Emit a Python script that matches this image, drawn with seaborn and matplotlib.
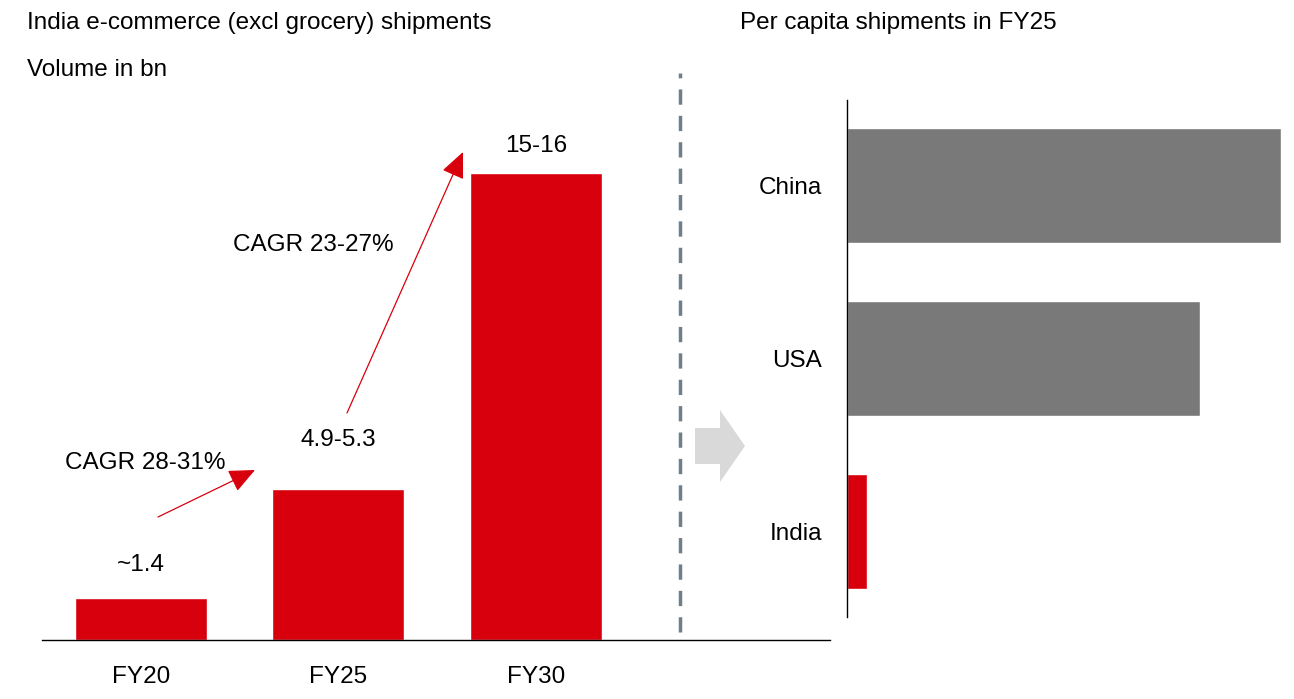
import matplotlib
matplotlib.use("Agg")
import matplotlib.pyplot as plt
import seaborn as sns
import pandas as pd
from matplotlib.patches import Polygon

sns.set_theme(style="white")
plt.rcParams['font.family'] = ['Liberation Sans', 'DejaVu Sans']
plt.rcParams['text.color'] = 'black'

# ---- data ----
years = ["FY20", "FY25", "FY30"]
volumes = [1.4, 5.0, 15.5]
volume_labels = ["~1.4", "4.9-5.3", "15-16"]
countries = ["China", "USA", "India"]
per_capita = [78.0, 63.5, 3.6]
cagr_labels = ["CAGR 28-31%", "CAGR 23-27%"]

RED = "#d9000d"
GRAY = "#797979"
W, H = 1294, 699
FS = 17.5

fig = plt.figure(figsize=(W / 100, H / 100), dpi=100)

def ax_rect(l, r, t, b):
    return [l / W, 1 - b / H, (r - l) / W, (b - t) / H]

# ---- left panel ----
ax1 = fig.add_axes(ax_rect(42, 830, 70, 640))
df1 = pd.DataFrame({"year": years, "vol": volumes})
sns.barplot(data=df1, x="year", y="vol", color=RED, saturation=1, width=0.67, ax=ax1)
ax1.set_xlim(-0.5, 3.49)
ax1.set_ylim(0, 570 / 30.13)
ax1.set_xlabel("")
ax1.set_ylabel("")
ax1.set_yticks([])
ax1.tick_params(axis="x", length=0, labelsize=FS, pad=19, colors="black")
for s in ["top", "right", "left"]:
    ax1.spines[s].set_visible(False)
ax1.spines["bottom"].set_color("black")
ax1.spines["bottom"].set_linewidth(1.0)

label_offsets = [33, 49, 27]  # pixels above bar top
for i, (v, lab) in enumerate(zip(volumes, volume_labels)):
    ax1.annotate(lab, xy=(i, v), xytext=(0, label_offsets[i] * 0.72), textcoords="offset points",
                 ha="center", va="center", fontsize=FS, color="black")

# dashed divider
ax1.plot([2.73, 2.73], [(640 - 632) / 30.13, (640 - 73) / 30.13], color="#6e7f8c",
         lw=2.5, dashes=(4.4, 3.2), solid_capstyle="butt", clip_on=False)

# CAGR arrows (figure pixel coords)
def fp(x, y):
    return (x, H - y)

for (x0, y0, x1, y1) in [(158, 517, 255, 470), (347, 413, 463, 152)]:
    fig.add_artist(matplotlib.text.Annotation(
        "", xy=fp(x1, y1), xytext=fp(x0, y0), xycoords="figure pixels",
        textcoords="figure pixels",
        arrowprops=dict(arrowstyle="-|>,head_length=0.9,head_width=0.4", color=RED,
                        lw=0.9, shrinkA=0, shrinkB=0, mutation_scale=18)))

fig.text(145 / W, 1 - 463 / H, cagr_labels[0], ha="center", va="center", fontsize=FS, color="black")
fig.text(313 / W, 1 - 245 / H, cagr_labels[1], ha="center", va="center", fontsize=FS, color="black")

# titles
fig.text(27 / W, 1 - 23 / H, "India e-commerce (excl grocery) shipments", ha="left", va="center",
         fontsize=FS, color="black")
fig.text(27 / W, 1 - 70 / H, "Volume in bn", ha="left", va="center", fontsize=FS, color="black")
fig.text(740 / W, 1 - 23 / H, "Per capita shipments in FY25", ha="left", va="center",
         fontsize=FS, color="black")

# gray arrow shape
pts = [(695, 428), (720, 428), (720, 410), (745, 446), (720, 482), (720, 464), (695, 464)]
fig.add_artist(Polygon([(x / W, 1 - y / H) for x, y in pts], closed=True,
                       transform=fig.transFigure, facecolor="#d9d9d9", edgecolor="none"))

# ---- right panel ----
ax2 = fig.add_axes(ax_rect(847, 1281, 100, 617))
df2 = pd.DataFrame({"country": countries, "val": per_capita})
sns.barplot(data=df2, y="country", x="val", hue="country",
            palette=[GRAY, GRAY, RED], saturation=1, width=0.665, legend=False, ax=ax2)
ax2.set_xlim(0, per_capita[0])
ax2.set_ylim(2.494, -0.494)
ax2.set_xlabel("")
ax2.set_ylabel("")
ax2.set_xticks([])
ax2.tick_params(axis="y", length=0, labelsize=FS, pad=18, colors="black")
for s in ["top", "right", "bottom"]:
    ax2.spines[s].set_visible(False)
ax2.spines["left"].set_color("black")
ax2.spines["left"].set_linewidth(1.0)

fig.savefig("out.png", dpi=100, facecolor="white")
